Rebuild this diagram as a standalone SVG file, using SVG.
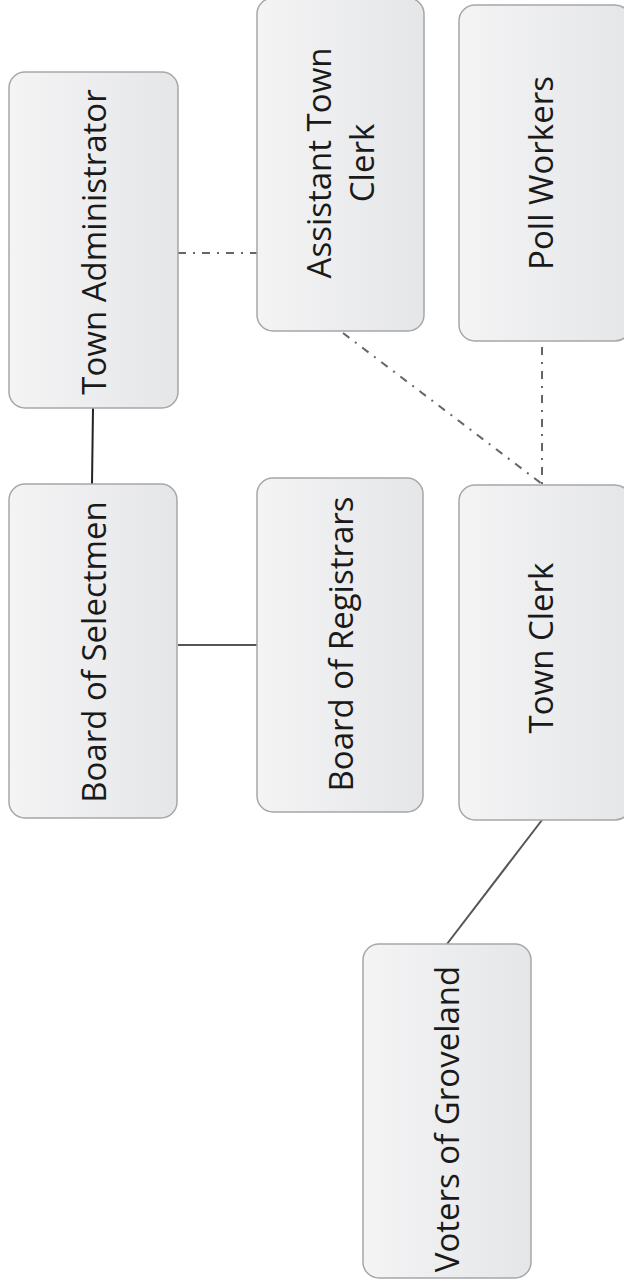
<svg xmlns="http://www.w3.org/2000/svg" width="624" height="1287" viewBox="0 0 624 1287">
<defs>
<linearGradient id="g" x1="0" y1="0" x2="1" y2="0">
<stop offset="0" stop-color="#f4f4f5"/>
<stop offset="1" stop-color="#e5e6e8"/>
</linearGradient>
<style>
.box{fill:url(#g);stroke:#a6a7a9;stroke-width:1.5}
.lbl{font-family:"Open Sans","Liberation Sans",sans-serif;font-size:33px;fill:#1a1a1a;text-anchor:middle;dominant-baseline:central}
.solid{stroke:#555;stroke-width:2;fill:none}
.dd{stroke:#666;stroke-width:2;fill:none;stroke-dasharray:8 7 2 7}
</style>
</defs>
<rect width="624" height="1287" fill="#fff"/>
<g id="connectors">
<line class="solid" x1="93" y1="408" x2="92" y2="484" style="stroke:#222"/>
<line class="solid" x1="178" y1="645" x2="257" y2="645"/>
<line class="dd" x1="178" y1="253" x2="257" y2="253"/>
<line class="dd" x1="343" y1="333" x2="542" y2="484"/>
<line class="dd" x1="542" y1="347" x2="542" y2="484"/>
<line class="solid" x1="542" y1="820" x2="447" y2="944"/>
</g>
<g id="town-administrator">
<rect class="box" x="9" y="72" width="169" height="336" rx="16"/>
<text class="lbl" transform="translate(93,242) rotate(-90)">Town Administrator</text>
</g>
<g id="board-of-selectmen">
<rect class="box" x="9" y="484" width="168" height="334" rx="16"/>
<text class="lbl" transform="translate(93,652) rotate(-90)">Board of Selectmen</text>
</g>
<g id="assistant-town-clerk">
<rect class="box" x="257" y="-2" width="167" height="333" rx="16"/>
<text class="lbl" transform="translate(318,163) rotate(-90)">Assistant Town</text>
<text class="lbl" transform="translate(361,163) rotate(-90)">Clerk</text>
</g>
<g id="board-of-registrars">
<rect class="box" x="257" y="478" width="166" height="334" rx="16"/>
<text class="lbl" transform="translate(340,644) rotate(-90)">Board of Registrars</text>
</g>
<g id="poll-workers">
<rect class="box" x="459" y="5" width="172" height="336" rx="16"/>
<text class="lbl" transform="translate(540,173) rotate(-90)">Poll Workers</text>
</g>
<g id="town-clerk">
<rect class="box" x="459" y="485" width="172" height="335" rx="16"/>
<text class="lbl" transform="translate(540,648) rotate(-90)">Town Clerk</text>
</g>
<g id="voters-of-groveland">
<rect class="box" x="363" y="944" width="168" height="334" rx="16"/>
<text class="lbl" transform="translate(446,1119) rotate(-90)">Voters of Groveland</text>
</g>
</svg>
